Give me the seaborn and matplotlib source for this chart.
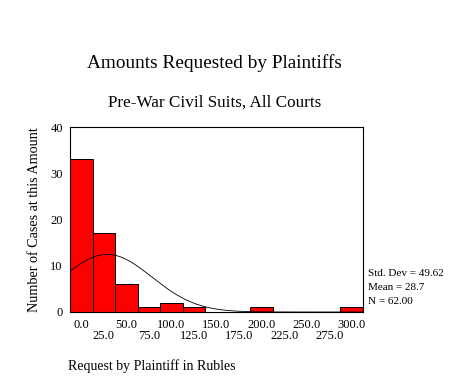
import matplotlib
matplotlib.use("Agg")
import matplotlib.pyplot as plt
import numpy as np
import pandas as pd
import seaborn as sns

# histogram data (bin centres, counts)
bin_centers = [0, 25, 50, 75, 100, 125, 150, 175, 200, 225, 250, 275, 300]
counts = [33, 17, 6, 1, 2, 1, 0, 0, 1, 0, 0, 0, 1]
bin_width = 25
std_dev = 49.62
mean = 28.7
n_cases = 62.00
y_ticks = [0, 10, 20, 30, 40]

sns.set_style("white")
plt.rcParams['font.family'] = ['Liberation Serif', 'DejaVu Serif']
plt.rcParams['text.color'] = 'black'
plt.rcParams['axes.labelcolor'] = 'black'
plt.rcParams['xtick.color'] = 'black'
plt.rcParams['ytick.color'] = 'black'

fig = plt.figure(figsize=(4.73, 3.85), dpi=100)
ax = fig.add_axes([70/473, 73/385, 293/473, 185/385])

df = pd.DataFrame({"amount": bin_centers, "n": counts})
lo = bin_centers[0] - bin_width/2
hi = bin_centers[-1] + bin_width/2
sns.histplot(data=df, x="amount", weights="n", binwidth=bin_width, binrange=(lo, hi),
             color="#ff0000", edgecolor="black", linewidth=0.7, alpha=1, ax=ax)

# normal curve scaled to counts
xs = np.linspace(lo, hi, 300)
ys = n_cases * bin_width * np.exp(-0.5*((xs-mean)/std_dev)**2) / (std_dev*np.sqrt(2*np.pi))
ax.plot(xs, ys, color="black", linewidth=0.6)

ax.set_xlim(lo, hi)
ax.set_ylim(0, 40)
# even ticks on first row, odd ticks on second row
even = bin_centers[0::2]
odd = bin_centers[1::2]
ax.set_xticks(even)
ax.set_xticklabels([f"{v:.1f}" for v in even], fontsize=9)
ax.set_xticks(odd, minor=True)
ax.set_xticklabels([f"{v:.1f}" for v in odd], minor=True, fontsize=9)
ax.set_yticks(y_ticks)
ax.set_yticklabels([str(v) for v in y_ticks], fontsize=9)
ax.tick_params(axis="both", which="both", direction="out", length=2.2, width=2.2, color="black", pad=3)
ax.tick_params(axis="x", which="minor", pad=11)
for s in ax.spines.values():
    s.set_color("black")
    s.set_linewidth(0.8)

ax.set_xlabel("")
ax.set_ylabel("Number of Cases at this Amount", fontsize=10.2, labelpad=6.5)

fig.text(87/473, 1 - 63/385, "Amounts Requested by Plaintiffs", fontsize=13.9, va="center", ha="left")
fig.text(108/473, 1 - 103/385, "Pre-War Civil Suits, All Courts", fontsize=12.3, va="center", ha="left")
fig.text(68/473, 1 - 366/385, "Request by Plaintiff in Rubles", fontsize=10, va="center", ha="left")

stats = [f"Std. Dev = {std_dev:.2f}", f"Mean = {mean:.1f}", f"N = {n_cases:.2f}"]
for i, t in enumerate(stats):
    fig.text(368/473, 1 - (273 + 14*i)/385, t, fontsize=8, va="center", ha="left")

fig.savefig("out.png", dpi=100, facecolor="white")
